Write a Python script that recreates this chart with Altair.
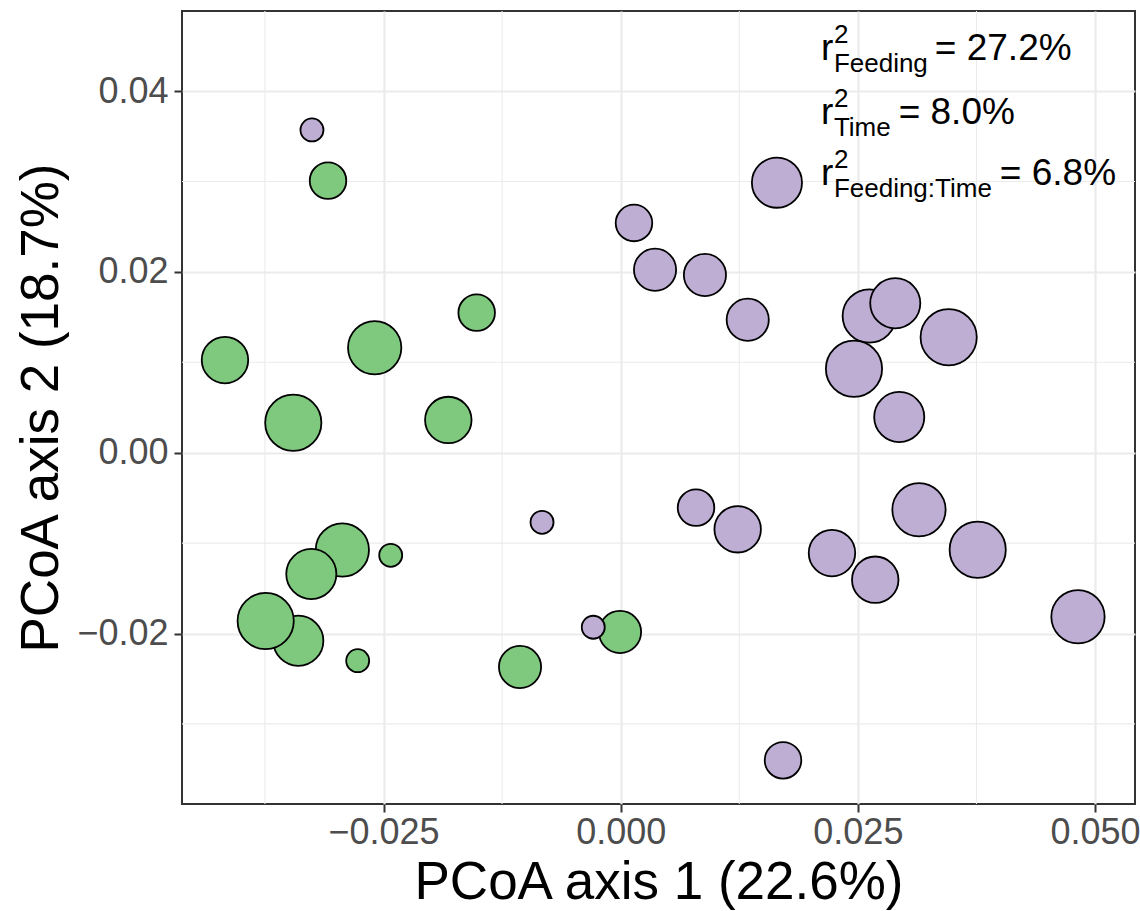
import math
import altair as alt
import pandas as pd

# ---------------- data ----------------
green_x = [-0.03085, -0.04171, -0.02593, -0.01518, -0.03451, -0.01817, -0.02934,
           -0.03261, -0.02424, -0.03398, -0.03742, -0.02772, -0.01061, -0.00007]
green_y = [0.03009, 0.01025, 0.01161, 0.01549, 0.00332, 0.00362, -0.01076,
           -0.01342, -0.01135, -0.02080, -0.01862, -0.02301, -0.02371, -0.01983]
green_t = [2, 4, 6, 2, 7, 4, 6, 5, 1, 5, 7, 1, 3, 3]

purple_x = [0.02620, -0.03254, -0.00829, -0.00289, 0.01647, 0.00140, 0.00362,
            0.00888, 0.01339, 0.02894, 0.03457, 0.02459, 0.02936, 0.00794,
            0.01233, 0.02227, 0.02683, 0.03144, 0.03763, 0.04820, 0.01711]
purple_y = [0.01512, 0.03570, -0.00770, -0.01931, 0.02987, 0.02541, 0.02024,
            0.01966, 0.01471, 0.01653, 0.01277, 0.00929, 0.00395, -0.00608,
            -0.00847, -0.01110, -0.01405, -0.00631, -0.01073, -0.01814, -0.03403]
purple_t = [6, 1, 1, 1, 5, 2, 3, 3, 3, 5, 7, 7, 5, 2, 4, 4, 4, 6, 7, 6, 2]

groups = ["Unfed", "Fed"]
group_colors = ["#7FC97F", "#BEAED4"]
time_levels = [1, 2, 3, 4, 5, 6, 7]

ann_terms = ["Feeding", "Time", "Feeding:Time"]
ann_values = ["27.2%", "8.0%", "6.8%"]
ann_x = 0.0211
ann_y = [0.0434, 0.0364, 0.0296]

x_ticks = [-0.025, 0.0, 0.025, 0.05]
y_ticks = [-0.02, 0.0, 0.02, 0.04]
x_minor = [-0.0375, -0.0125, 0.0125, 0.0375]
y_minor = [-0.03, -0.01, 0.01, 0.03]

# ---------------- layout ----------------
W, H = 953, 793
x_dom = [-0.04624, 0.05421]
y_dom = [-0.03886, 0.04886]
ppx = W / (x_dom[1] - x_dom[0])
ppy = H / (y_dom[1] - y_dom[0])
FONT = "Liberation Sans"
STROKE = 1.8

# size range (area-like scale, as in ggplot's scale_size)
size_range = []
for t in time_levels:
    s = 1 + 5 * math.sqrt((t - time_levels[0]) / (time_levels[-1] - time_levels[0]))
    r_vis = 9.08 + 3.32 * s
    r = r_vis - STROKE / 2
    size_range.append((2 * r) ** 2)

pts = pd.DataFrame({
    "x": green_x + purple_x,
    "y": green_y + purple_y,
    "Time": green_t + purple_t,
    "Feeding": [groups[0]] * len(green_x) + [groups[1]] * len(purple_x),
})

xs = alt.Scale(domain=x_dom, nice=False, zero=False)
ys = alt.Scale(domain=y_dom, nice=False, zero=False)

x_axis = alt.Axis(values=x_ticks, format=".3f", grid=True, gridColor="#EBEBEB",
                  gridWidth=2.2, domain=False, ticks=True, tickColor="#333333",
                  tickWidth=2, tickSize=8, labelFont=FONT, labelFontSize=36,
                  labelColor="#4D4D4D", labelPadding=3, labelOverlap=False,
                  labelFlush=False, title="PCoA axis 1 (22.6%)", titleFont=FONT,
                  titleFontSize=53, titleFontWeight="normal", titleColor="black",
                  titleY=94, titleBaseline="alphabetic")
y_axis = alt.Axis(values=y_ticks, format=".2f", grid=True, gridColor="#EBEBEB",
                  gridWidth=2.2, domain=False, ticks=True, tickColor="#333333",
                  tickWidth=2, tickSize=8, labelFont=FONT, labelFontSize=36,
                  labelColor="#4D4D4D", labelPadding=6, labelOverlap=False,
                  labelFlush=False, title="PCoA axis 2 (18.7%)", titleFont=FONT,
                  titleFontSize=53, titleFontWeight="normal", titleColor="black",
                  titleAngle=-90, titleX=-125, titleY=H / 2, titleAlign="center",
                  titleBaseline="alphabetic")

# minor grid lines
minor_v = alt.Chart(pd.DataFrame({"v": x_minor})).mark_rule(
    color="#EBEBEB", strokeWidth=1.1
).encode(x=alt.X("v:Q", scale=xs, axis=x_axis))
minor_h = alt.Chart(pd.DataFrame({"v": y_minor})).mark_rule(
    color="#EBEBEB", strokeWidth=1.1
).encode(y=alt.Y("v:Q", scale=ys, axis=y_axis))

points = alt.Chart(pts).mark_point(
    filled=True, shape="circle", stroke="black", strokeWidth=STROKE,
    opacity=1, fillOpacity=1, strokeOpacity=1
).encode(
    x=alt.X("x:Q", scale=xs, axis=x_axis),
    y=alt.Y("y:Q", scale=ys, axis=y_axis),
    color=alt.Color("Feeding:N", scale=alt.Scale(domain=groups, range=group_colors), legend=None),
    size=alt.Size("Time:Q", scale=alt.Scale(type="linear", domain=time_levels,
                                             range=size_range, zero=False, nice=False),
                  legend=None),
)

# ---------------- annotation (r^2 with sub/superscripts) ----------------
# approximate Arial / Liberation Sans advance widths (per 1000 em)
CW = {"F": 611, "e": 556, "d": 556, "i": 222, "n": 556, "g": 556, ":": 278,
      "T": 611, "m": 833}
MAIN_FS, SUB_FS = 37, 26


def tw(s, fs):
    return sum(CW.get(c, 556) for c in s) * fs / 1000


big_rows, small_rows = [], []
for term, val, yl in zip(ann_terms, ann_values, ann_y):
    big_rows.append({"x": ann_x, "y": yl, "t": "r"})
    sub_dx = 13
    small_rows.append({"x": ann_x + sub_dx / ppx, "y": yl + 17 / ppy, "t": "2"})
    small_rows.append({"x": ann_x + sub_dx / ppx, "y": yl - 12 / ppy, "t": term})
    eq_dx = sub_dx + tw(term, SUB_FS) + 7
    big_rows.append({"x": ann_x + eq_dx / ppx, "y": yl, "t": "= " + val})

big_txt = alt.Chart(pd.DataFrame(big_rows)).mark_text(
    align="left", baseline="alphabetic", font=FONT, fontSize=MAIN_FS, color="black"
).encode(x=alt.X("x:Q", scale=xs, axis=x_axis), y=alt.Y("y:Q", scale=ys, axis=y_axis), text="t:N")
small_txt = alt.Chart(pd.DataFrame(small_rows)).mark_text(
    align="left", baseline="alphabetic", font=FONT, fontSize=SUB_FS, color="black"
).encode(x=alt.X("x:Q", scale=xs, axis=x_axis), y=alt.Y("y:Q", scale=ys, axis=y_axis), text="t:N")

chart = alt.layer(minor_v, minor_h, points, big_txt, small_txt).properties(
    width=W, height=H,
    autosize=alt.AutoSizeParams(type="none"),
    padding={"left": 182, "top": 11, "right": 5, "bottom": 107},
    background="white",
).configure(font=FONT).configure_view(stroke="#333333", strokeWidth=2)

chart.save("out.html", embed_options={"renderer": "svg", "actions": False})
